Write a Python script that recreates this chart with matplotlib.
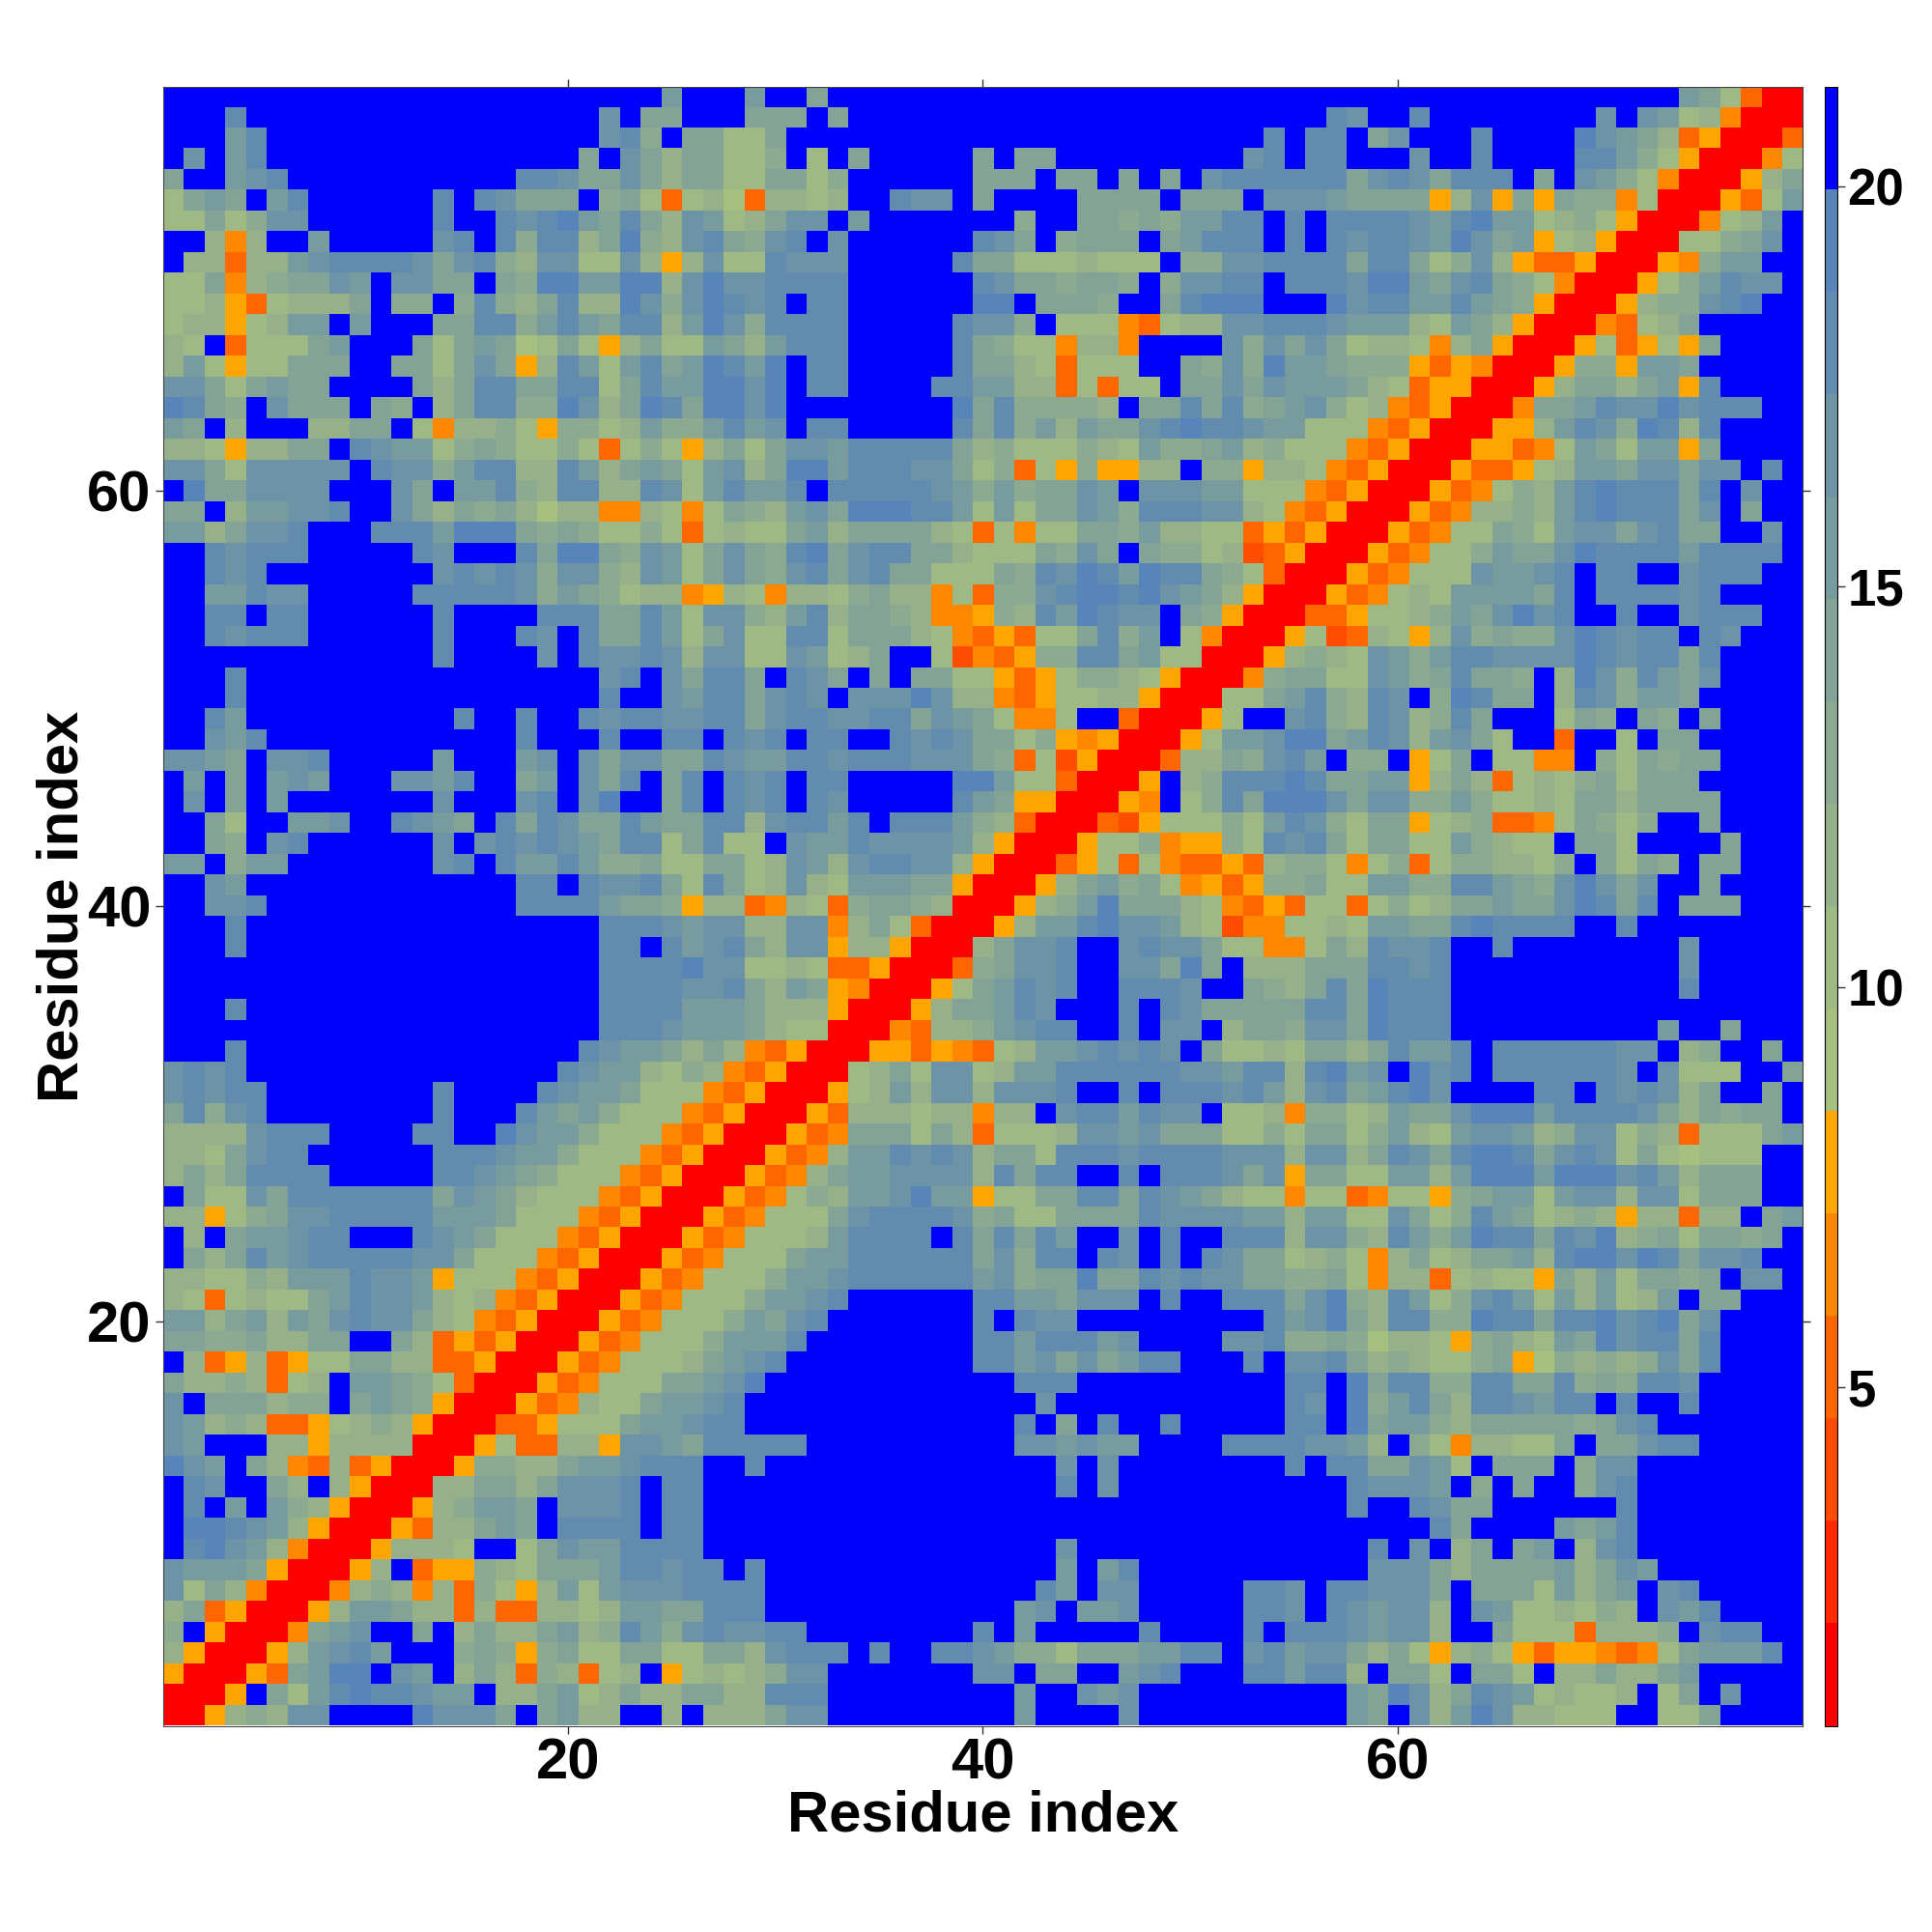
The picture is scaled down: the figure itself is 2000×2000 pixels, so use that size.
import numpy as np
import matplotlib
matplotlib.use("Agg")
import matplotlib.pyplot as plt
from matplotlib.colors import ListedColormap, BoundaryNorm

plt.rcParams["font.family"] = ["Liberation Sans", "DejaVu Sans"]
plt.rcParams["font.weight"] = "bold"

N_RES = 79
TICKS = [20, 40, 60]
CBAR_TICKS = [5, 10, 15, 20]
LABEL = "Residue index"

# 16 colour classes, 1.28 wide, the last one is everything past 20
DIST_MIN = 0.77
DIST_STEP = 1.28
CLASS_COLORS = [
    "#ff0000", "#ff2a00", "#ff4d00", "#ff6600", "#ff8800", "#ffa500",
    "#a6c07f", "#9fb984", "#96b18a", "#8caa90", "#82a396",
    "#789c9e", "#6d94a6", "#628caf", "#5785b9", "#0000ff",
]

# half of the symmetric map, rows from residue 79 down to 1, columns 1..row.
# each token is a hex class, optionally followed by a repeat count
ROWS = [
    "f24 b f3 b f2 a f41 b a 7 3 0 0",
    "f3 d f17 c f a a f3 a a a f a f23 d c f2 d f8 c f c b 7 8 4 0 0",
    "f3 b d f16 c d 9 f a a 7 7 a f23 d f d d f a c f3 d f4 e c b a 8 3 5 0 0",
    "f c f b d f15 a f c a 8 a a 7 7 9 f 7 f a f5 a f a a f9 c d f d d f3 c f2 d f4 d d b 9 7 5 0 0",
    "a f2 b c d f11 d d c a a c a 8 a a 7 7 a a 7 9 f6 a a a f a a f a f a f c d6 a c d c a d d d f a f c b 9 7 4 0 0",
    "7 a b a f b d f6 d f d c a a a f 9 a 7 3 7 8 6 3 8 8 7 8 f2 d c c f a f4 a a a a f a a a f c c c b a a a a 5 8 c 5 a 5 a 9 9 4 7 0 0",
    "7 7 a 7 9 c c f6 d f2 d c d e b a d a 8 c b 7 8 a c c f b f7 9 f2 a a 9 a 9 b b d d f d f d d d d c b d e b b 7 8 9 7 5 0 0",
    "f2 8 4 8 f2 b f5 c d f d 9 d d 8 a e 9 8 c d a 9 c d f c f6 d c a f 9 a a a f a b d d d f d f d c d d c b e c a b 5 7 8 5 0 0",
    "f 8 8 3 8 8 b c d d d d c a c d 9 8 c c 7 7 c 8 5 8 c 7 7 d c c c f5 d a a 7 7 7 8 7 7 7 f 9 9 c c d d d d a d d a 7 9 c 8 5 3 3 5 0 0",
    "7 7 a 4 8 9 a a c b f c c a a f a 9 e e b b e e 8 c e c c d d d d f6 d c a a 9 a a 9 f 9 c c d d f d d d c e e b a c d a 9 7 4 0 0",
    "7 7 8 5 3 7 8 8 8 a f 9 9 f 9 d 9 8 a d 8 8 e c 9 c e d c d f d d f6 e e f a a a 9 f f a d e e e f3 e c d d b b d b a 9 5 0 0",
    "7 8 8 5 7 8 b b f b f3 a a d d 9 b d b a d d 8 b e c 9 d d d d f5 d c c 9 f 7 7 7 4 3 7 8 8 c c d d d c b b b 8 7 b a 8 5 0 0",
    "8 7 f 3 7 7 7 a b f3 a 7 a b a 6 7 a 7 5 8 a 7 7 b a 8 b d d d f5 d a 9 7 7 4 8 8 4 f4 c 9 c a c a 7 8 8 7 4 8 a 5 0 0",
    "8 b 7 5 7 7 a a a f f a a 7 a c a 5 8 d b 7 b d a b e d b e f d d f5 d a a 8 7 3 7 7 7 f f a 9 c 9 e b b a 9 9 9 5 3 5 4 0 0",
    "c c a 7 a b a a f4 a 8 a d d a a d d 7 a d b b e e c e f d d f4 d d b b 8 8 3 7 3 7 7 f a a c a c b b b a 8 7 3 5 5 0 0",
    "e d a 9 f c a a a f a 9 f 8 a d d 9 9 e c 8 a e d a e e c e f8 e a d 9 9 9 9 8 f a a d a d 9 a b c 9 7 8 4 3 5 0 0",
    "b a f 8 f3 8 8 a a f 7 4 8 8 9 7 5 9 9 7 8 b 9 9 b d b c f d d f5 d a d 9 b 8 b a a c d e d d c b b 7 7 7 4 3 5 0 0",
    "8 8 7 5 8 8 a a f d c b b 7 9 a 9 7 7 9 7 3 7 9 7 5 8 a 7 a c c b d5 a 8 9 7 7 7 9 8 7 b 9 9 a b 8 9 7 7 7 4 3 5 0 0",
    "c c a 7 c c c c c f d c c 9 b d d 8 8 d b 8 a b a 7 b c 8 a e e b d d d c c a 7 9 3 7 5 9 5 5 8 8 f 9 9 5 8 8 7 4 3 5 0 0",
    "f e a a c4 f3 c a f b b d 9 8 d d 8 8 d c 7 b d b b d f d5 c b 9 b 9 a a c b f c c c b b 7 7 7 4 3 5 0 0",
    "a a f 8 b b c c d f f c a 8 a 9 a 8 6 8 8 4 4 8 7 4 7 a 9 8 b c a e e e d d b 7 b 7 a a c b 9 d d d c c 8 7 4 3 5 0 0",
    "b b 8 a c c d f3 d d d b e e e a 9 a 9 7 7 9 7 3 7 8 7 7 a b 8 a a a a 8 7 3 7 4 7 7 a a 9 b 8 8 7 7 3 5 3 5 0 0",
    "f f d c d d d f5 d c f3 d a e e a 9 c b 7 a c a 9 d e a c d d a a 8 7 7 7 a 9 c a f a 9 9 7 8 2 3 5 0 0",
    "f f d c d f8 c d c d c 9 c c 9 8 c b 7 a c a 9 c d a c d a a 7 7 7 a 9 d c e d b e d d a 9 7 3 0 0",
    "f f b b d c c f5 d5 c 9 b a 9 7 8 8 4 5 8 7 4 8 8 7 9 a 8 8 4 7 3 9 9 c d e e d e c b a 8 5 0 0",
    "f f d d f d d f6 d f4 d d d a a d b 7 c c 9 8 b d 8 a a 9 8 4 4 5 9 8 d b e d c c f a 9 5 0 0",
    "f f d c d d d f6 d f3 d c f d a a d b 7 a c 7 7 d d 7 a a a 8 7 4 3 5 3 7 7 a d 9 b f 7 4 0 0",
    "f13 d f4 c f d c c d c 8 c c 7 7 c b 7 8 a f f 7 2 4 3 5 9 9 d d a b 7 7 0 0",
    "f3 d f17 c d f c a d d a f d c a f a f a a 7 7 5 3 5 7 9 9 8 7 5 0 0",
    "f3 d f17 d f f c b d d a c d c f c c c e c 8 8 4 3 5 7 7 8 8 5 0 0",
    "f f d b f10 d f f d f f d c d d c c d d a c d d c c d d a c b a 7 4 4 7 f f 3 0 0",
    "f f c b d f12 d f3 d f f d d f d c d f d d f f d c d c a a 7 9 5 4 5 0 0",
    "c c b a f c c d f5 b f3 b c f c a c c a a d c b b d d c d d d c c c a 9 3 7 2 5 0 0",
    "f b f a f b c b f3 c c b d f f a b f c a d f a d f d c d f d d f5 e e b 7 7 3 0 0",
    "f c f a f b f7 c f3 c d f c e f f a d f d c d f d c f5 d b a 5 5 0 0",
    "f f a 7 f f b b c f f d c b a f d a d c a a d b a a d d 8 c d d b d f d d d b 9 8 3 0 0",
    "f f a 9 f c d f6 c f c d c d c b a d d 7 a d 7 7 f c b b d c c c c b 8 5 0 0",
    "b b f 9 b b f7 c d f d b b d b 9 9 a 7 7 a a 7 8 c b 8 c d d c c 8 5 0 0",
    "f f c b f13 d d f d c c d a 7 d a 7 8 c 8 7 b b b a a 5 0 0",
    "f f c c d f12 d d d d b a a 9 5 8 8 3 4 8 7 3 9 a a 9 8 0 0",
    "f3 d f17 d d d c b c c 8 8 c c 4 8 a 7 3 0 0",
    "f3 d f17 d d f d b c d a 8 c c 5 8 8 5 0 0",
    "f21 d d d d e c c 7 7 8 7 3 3 5 0 0",
    "f21 d d d d c c d a 8 b a 5 4 0 0",
    "f3 d f17 d d d d b b b a 8 8 8 5 0 0",
    "f21 d d d c b b b a 8 7 7 0 0",
    "f3 d f16 d c b b a 8 a 8 4 3 5 0 0",
    "c d c d f15 d c b b 8 7 9 8 4 3 5 0 0",
    "c d c d d f8 d f4 d c b b a 7 7 7 4 3 5 0 0",
    "a d 9 c d f8 d f3 d b a b 9 7 7 7 4 3 5 0 0",
    "8 8 8 8 c d d d f4 d d f f e c b b 9 7 7 7 4 3 5 0 0",
    "8 8 7 a c d d f6 d d d c b b 9 7 7 7 4 3 5 0 0",
    "8 a 8 a d d d d f5 d d c b a 9 7 7 7 4 3 5 0 0",
    "f a 7 7 c a d7 a c b a 8 7 7 7 4 3 5 0 0",
    "8 8 5 7 9 a c c d5 b b b a 7 7 7 4 3 5 0 0",
    "f 8 f a b b c d d f f f d c b a 7 7 7 4 3 5 0 0",
    "f a 8 a d b c d d d d d c c a 7 7 7 4 3 5 0 0",
    "8 8 7 7 9 8 b b b d c c b 5 7 7 7 4 3 5 0 0",
    "8 7 3 7 8 7 7 a b d c c b 8 7 8 4 3 5 0 0",
    "b b 8 a b 8 b a c d c c a 8 7 4 3 5 0 0",
    "a a 9 9 a 8 8 a a f f a 8 3 5 3 5 0 0",
    "f 8 3 5 8 3 5 7 7 a a 8 8 3 3 5 0 0",
    "a 8 8 9 8 3 7 8 f b b a 9 7 3 0 0",
    "c f a a a 8 9 9 f a b a 9 5 0 0",
    "c b 8 9 8 3 3 5 7 8 9 8 5 0 0",
    "c b f f f 8 8 5 8 8 8 8 0 0",
    "e c b f a 8 4 3 8 3 5 0 0",
    "f d c f f a 8 f 8 5 0 0",
    "f d f b f b 9 8 5 0 0",
    "f e e d c b 8 5 0 0",
    "f d e c b 8 4 0 0",
    "c b b b a 5 0 0",
    "c 7 a 8 4 0 0",
    "8 a 3 5 0 0",
    "9 f 5 0 0",
    "8 5 0 0",
    "5 0 0",
    "0 0",
    "0",
]


def decode_row(row):
    out = []
    for token in row.split():
        out.extend([int(token[0], 16)] * int(token[1:] or 1))
    return out


def build_matrix():
    mat = np.zeros((N_RES, N_RES), dtype=int)
    bad = []
    for i, row in enumerate(ROWS):
        res = N_RES - i
        levels = decode_row(row)
        if len(levels) != res:
            bad.append((res, len(levels)))
            levels = (levels + [15] * res)[:res]
        mat[res - 1, :res] = levels
        mat[:res, res - 1] = levels
    if bad:
        raise SystemExit(f"row length mismatch {bad}")
    return DIST_MIN + (mat + 0.5) * DIST_STEP


def main():
    dist = build_matrix()
    edges = DIST_MIN + np.arange(len(CLASS_COLORS) + 1) * DIST_STEP
    cmap = ListedColormap(CLASS_COLORS)
    norm = BoundaryNorm(edges, cmap.N)

    fig = plt.figure(figsize=(20, 20), dpi=100)
    ax = fig.add_axes([168.8 / 2000, 213.5 / 2000, 1697 / 2000, 1697 / 2000])
    cax = fig.add_axes([1889 / 2000, 213.5 / 2000, 12.5 / 2000, 1697 / 2000])

    im = ax.imshow(dist, origin="lower", cmap=cmap, norm=norm, interpolation="nearest",
                   extent=(0.5, N_RES + 0.5, 0.5, N_RES + 0.5), aspect="auto")
    ax.set_xticks(TICKS)
    ax.set_yticks(TICKS)
    ax.tick_params(axis="both", length=6, width=1, direction="out", top=True, right=True,
                   labelsize=43, pad=3, color="#333333")
    ax.set_xlabel(LABEL, fontsize=43, fontweight="bold")
    ax.set_ylabel(LABEL, fontsize=43, fontweight="bold")
    ax.xaxis.set_label_coords(0.5, -0.055)
    ax.yaxis.set_label_coords(-0.061, 0.5)
    ax.xaxis.label.set_verticalalignment("center")
    ax.yaxis.label.set_verticalalignment("center")
    for spine in ax.spines.values():
        spine.set_linewidth(0.8)
        spine.set_color("#444444")

    cbar = fig.colorbar(im, cax=cax, ticks=CBAR_TICKS)
    cbar.ax.tick_params(length=6, width=1, labelsize=38, pad=2, color="#333333")
    cbar.ax.minorticks_off()
    cbar.outline.set_linewidth(0.8)

    fig.savefig("out.png", dpi=100, facecolor="white")
    plt.close(fig)


if __name__ == "__main__":
    main()
